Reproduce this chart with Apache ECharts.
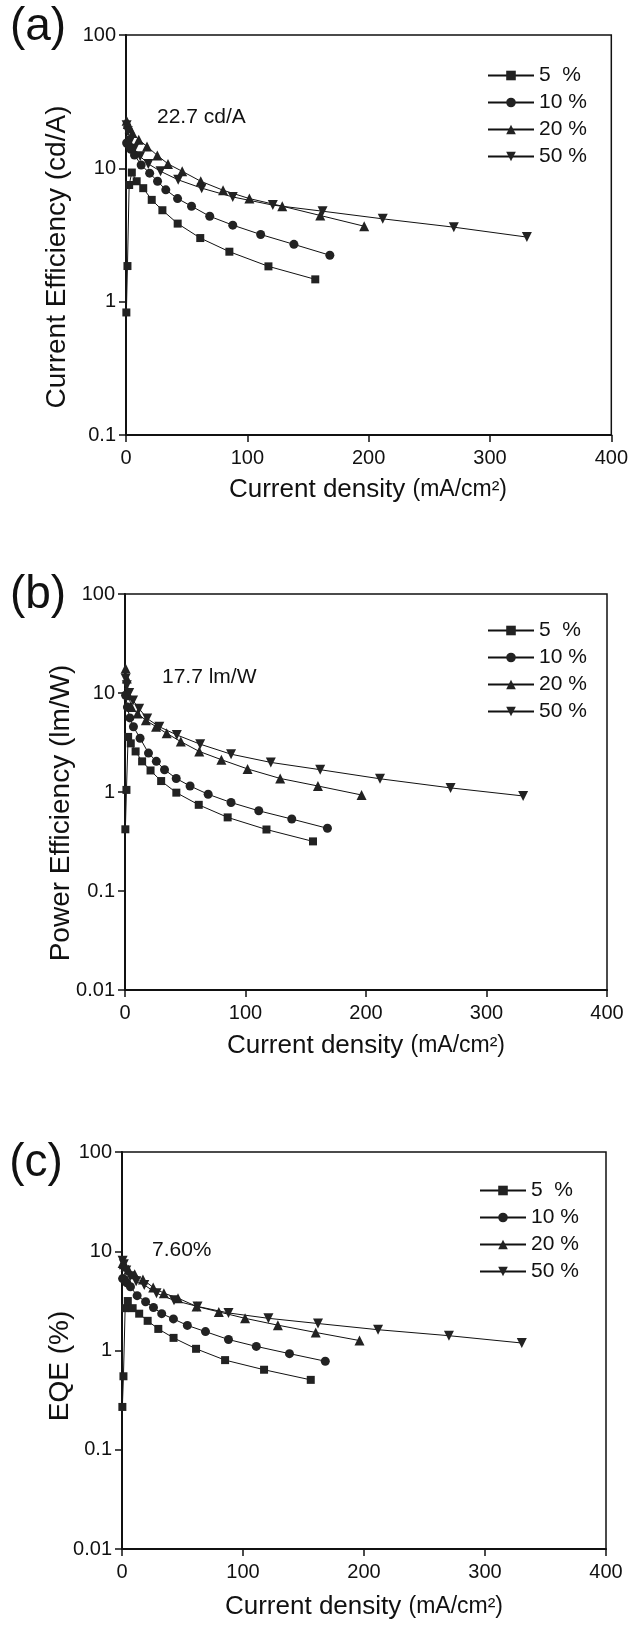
<!DOCTYPE html>
<html>
<head>
<meta charset="utf-8">
<script src="https://cdn.jsdelivr.net/npm/echarts@6/dist/echarts.min.js"></script>
<style>
  html, body { margin: 0; padding: 0; background: #fff; }
  #main { width: 631px; height: 1625px; }
</style>
</head>
<body>
<div id="main"></div>
<script>
// doping levels (legend names)
const dopings = ['5  %', '10 %', '20 %', '50 %']
const xTicks = [0, 100, 200, 300, 400]

// current density (mA/cm2) for each doping level
const x5 = [0.3, 1.2, 2.6, 4.8, 8.8, 14.2, 21.2, 30, 42.6, 61.2, 85.2, 117.4, 156]
const x10 = [0.5, 2, 4, 7, 12.5, 19.5, 26, 32.8, 42.5, 54, 69, 88, 111, 138.4, 168]
const x20 = [0.5, 1.5, 3, 5.3, 10.5, 17.3, 25.8, 34.6, 46.3, 61.6, 80, 101.7, 128.8, 160.1, 196.3]
const x50 = [0.5, 1.5, 3.5, 6.7, 11.7, 18.4, 28.5, 43, 62.4, 88, 121, 162, 211.6, 270.2, 330.4]

// (a) current efficiency, cd/A
const ce5 = [0.83, 1.85, 7.5, 9.3, 8.0, 7.1, 5.8, 4.85, 3.85, 3.0, 2.37, 1.84, 1.47]
const ce10 = [15.5, 15, 13.9, 12.6, 10.6, 9.2, 8.0, 6.9, 5.93, 5.2, 4.37, 3.75, 3.19, 2.69, 2.23]
const ce20 = [22.7, 21.5, 20, 18.4, 16.4, 14.6, 12.5, 10.8, 9.5, 8.0, 6.85, 5.93, 5.2, 4.43, 3.68]
const ce50 = [21, 19, 16, 14, 12.3, 10.8, 9.5, 8.2, 7.1, 6.1, 5.3, 4.77, 4.18, 3.62, 3.05]

// (b) power efficiency, lm/W
const pe5 = [0.42, 1.05, 3.6, 3.1, 2.57, 2.04, 1.65, 1.29, 0.985, 0.742, 0.554, 0.418, 0.317]
const pe10 = [9.5, 7.2, 5.6, 4.56, 3.49, 2.47, 2.04, 1.68, 1.37, 1.15, 0.948, 0.783, 0.646, 0.533, 0.43]
const pe20 = [17.7, 14, 9.5, 7.2, 6.2, 5.3, 4.56, 3.91, 3.23, 2.57, 2.12, 1.71, 1.37, 1.15, 0.933]
const pe50 = [14, 12, 10, 8.4, 6.95, 5.52, 4.56, 3.77, 3.04, 2.41, 1.99, 1.68, 1.36, 1.10, 0.912]

// (c) external quantum efficiency, %
const eqe5 = [0.27, 0.55, 2.67, 3.15, 2.67, 2.35, 1.99, 1.65, 1.34, 1.04, 0.80, 0.64, 0.506]
const eqe10 = [5.3, 5.2, 4.8, 4.39, 3.57, 3.1, 2.71, 2.35, 2.08, 1.79, 1.55, 1.29, 1.10, 0.93, 0.78]
const eqe20 = [7.6, 7.4, 7.0, 6.5, 5.87, 5.19, 4.32, 3.78, 3.37, 2.78, 2.45, 2.11, 1.80, 1.52, 1.26]
const eqe50 = [8.0, 7.4, 6.4, 5.6, 5.0, 4.58, 3.78, 3.2, 2.78, 2.39, 2.11, 1.87, 1.62, 1.41, 1.19]

const xs = [x5, x10, x20, x50]
const panels = [
  { ys: [ce5, ce10, ce20, ce50], min: 0.1 },
  { ys: [pe5, pe10, pe20, pe50], min: 0.01 },
  { ys: [eqe5, eqe10, eqe20, eqe50], min: 0.01 }
]

const font = 'Liberation Sans, Arial, sans-serif'
const ink = '#111'
const symbols = ['rect', 'circle', 'triangle', 'path://M0,0 L10,0 L5,9 Z']
const symbolSizes = [8, 9, 10, 10]

const grids = [
  { left: 126, top: 35, width: 486, height: 400 },
  { left: 125, top: 594, width: 482, height: 396 },
  { left: 122, top: 1152, width: 484, height: 397 }
]
// legend boxes (padding of 5px included)
const legendPos = [
  { left: 482, top: 60 },
  { left: 482, top: 615 },
  { left: 474, top: 1175 }
]

const myChart = echarts.init(document.getElementById('main'))

const option = {
  backgroundColor: '#fff',
  animation: false,
  grid: grids.map(g => Object.assign({
    show: true, borderColor: ink, borderWidth: 1.5, backgroundColor: 'transparent'
  }, g)),
  legend: legendPos.map(p => ({
    orient: 'vertical',
    left: p.left,
    top: p.top,
    data: dopings,
    itemWidth: 46,
    itemHeight: 12,
    itemGap: 6,
    selectedMode: false,
    textStyle: { color: ink, fontSize: 21, lineHeight: 21, fontFamily: font }
  })),
  xAxis: panels.map((p, i) => ({
    gridIndex: i,
    type: 'value',
    min: xTicks[0],
    max: xTicks[xTicks.length - 1],
    interval: 100,
    axisLine: { show: true, onZero: false, lineStyle: { color: ink, width: 2 } },
    axisTick: { show: true, length: 7, lineStyle: { color: ink, width: 1.5 } },
    axisLabel: { color: ink, fontSize: 20, margin: 13, fontFamily: font },
    splitLine: { show: false }
  })),
  yAxis: panels.map((p, i) => ({
    gridIndex: i,
    type: 'log',
    logBase: 10,
    min: p.min,
    max: 100,
    axisLine: { show: true, onZero: false, lineStyle: { color: ink, width: 2 } },
    axisTick: { show: true, length: 7, lineStyle: { color: ink, width: 1.5 } },
    axisLabel: {
      color: ink, fontSize: 20, margin: 10, fontFamily: font,
      formatter: v => String(+Number(v).toPrecision(2))
    },
    splitLine: { show: false }
  })),
  series: [],
  graphic: []
}

panels.forEach((p, gi) => {
  dopings.forEach((name, k) => {
    option.series.push({
      type: 'line',
      name: name,
      xAxisIndex: gi,
      yAxisIndex: gi,
      data: xs[k].map((x, j) => [x, p.ys[k][j]]),
      symbol: symbols[k],
      symbolSize: symbolSizes[k],
      showAllSymbol: true,
      lineStyle: { color: ink, width: 1 },
      itemStyle: { color: '#222', borderWidth: 0 },
      emphasis: { disabled: true }
    })
  })
})

// panel letters, annotations and axis titles
const texts = [
  { t: '(a)', x: 38, y: 27, size: 46 },
  { t: '(b)', x: 38, y: 595, size: 46 },
  { t: '(c)', x: 36, y: 1163, size: 46 },
  { t: '22.7 cd/A', x: 157, y: 117, size: 21, align: 'left' },
  { t: '17.7 lm/W', x: 162, y: 677, size: 21, align: 'left' },
  { t: '7.60%', x: 152, y: 1250, size: 21, align: 'left' },
  { t: 'Current Efficiency (cd/A)', x: 57, y: 257, size: 28, rot: true },
  { t: 'Power Efficiency (lm/W)', x: 61, y: 813, size: 28, rot: true },
  { t: 'EQE (%)', x: 60, y: 1366, size: 28, rot: true }
]
texts.forEach(d => {
  option.graphic.push({
    type: 'text',
    x: d.x,
    y: d.y,
    rotation: d.rot ? Math.PI / 2 : 0,
    style: {
      text: d.t,
      fill: ink,
      font: d.size + 'px ' + font,
      align: d.align || 'center',
      verticalAlign: 'middle'
    }
  })
})

const xTitleY = [490, 1046, 1607]
const xTitleX = [368, 366, 364]
xTitleY.forEach((y, i) => {
  option.graphic.push({
    type: 'text',
    x: xTitleX[i],
    y: y,
    style: {
      text: '{a|Current density }{b|(mA/cm²)}',
      fill: ink,
      align: 'center',
      verticalAlign: 'middle',
      rich: {
        a: { fontSize: 26, fontFamily: font, fill: ink },
        b: { fontSize: 23, fontFamily: font, fill: ink }
      }
    }
  })
})

myChart.setOption(option)
</script>
</body>
</html>
